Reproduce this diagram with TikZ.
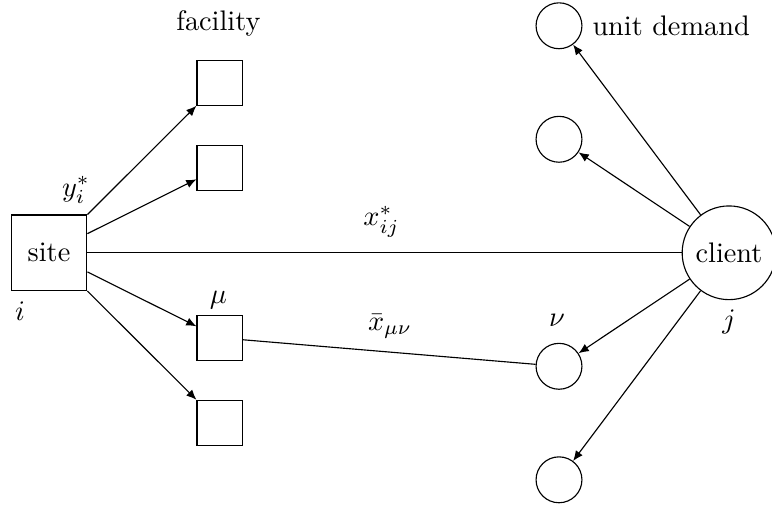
\documentclass[tikz,border=0pt]{standalone}
\usetikzlibrary{arrows.meta}
\begin{document}
\begin{tikzpicture}[>={Latex[length=3.6pt,width=3pt]}]
    \useasboundingbox (0,0) rectangle (9.59,-6.286);
    \node[draw, minimum size=0.94cm] (site) at (0.609,-3.14) {site};
    \node[draw, circle] (client) at (9.056,-3.14) {client};
    \draw (site) -- (client);

    % facilities on the left, unit demands on the right
    \foreach \k/\dy in {1/2.112, 2/1.056, 3/-1.056, 4/-2.112} {
        \node[draw, minimum size=0.56cm, inner sep=0pt] (f-\k) at (2.727,-3.14+\dy) {};
        \draw[->] (site) -- (f-\k);
    }
    \foreach \k/\dy in {1/2.82, 2/1.41, 3/-1.41, 4/-2.82} {
        \node[draw, circle, minimum size=0.57cm, inner sep=0pt] (d-\k) at (6.944,-3.14+\dy) {};
        \draw[->] (client) -- (d-\k);
    }
    \draw (f-3) -- (d-3);

    \node (fac) at (2.713,-0.296) {facility};
    \node[right] (unit) at (d-1.east) {unit demand};
    \node (yi) at (0.944,-2.36) {$y_i^*$};
    \node (ii) at (0.248,-3.863) {$i$};
    \node (mu) at (2.714,-3.727) {$\mu$};
    \node (nu) at (6.919,-3.981) {$\nu$};
    \node[below] (jj) at (client.south) {$j$};
    \node (xij) at (4.739,-2.752) {$x_{ij}^*$};
    \node (xmn) at (4.845,-4.05) {$\bar{x}_{\mu\nu}$};
\end{tikzpicture}
\end{document}
